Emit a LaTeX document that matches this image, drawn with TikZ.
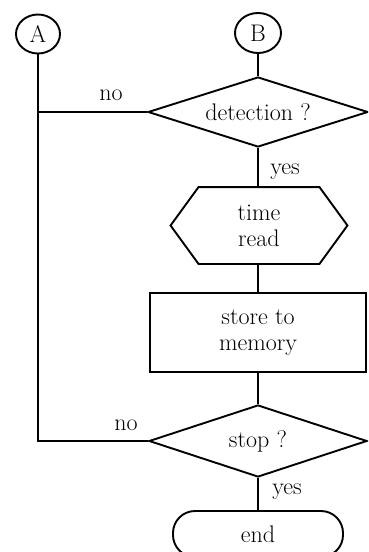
\documentclass[tikz,border=0pt]{standalone}
\usepackage{fontspec}
\usetikzlibrary{shapes.geometric}
\begin{document}
\begin{tikzpicture}[x=1pt,y=-1pt,line width=1.9pt,
  every node/.style={font=\fontsize{24}{26}\selectfont},
  conn/.style={draw,ellipse,minimum width=44,minimum height=39,inner sep=0},
  decide/.style={draw,diamond,inner sep=0},
  lbl/.style={inner sep=0}]
\useasboundingbox (0,0) rectangle (368,552);
\clip (0,0) rectangle (368,552);
\node[conn] (A) at (38,34) {A};
\node[conn,minimum width=46,minimum height=40] (B) at (258,33) {B};
\node[decide,minimum width=220,minimum height=70,shape aspect=3.14] (D1) at (258,112) {detection ?};
\node[inner sep=0,minimum width=175,minimum height=75,align=center] (H) at (259,225.5) {time\\read};
\draw ([xshift=28pt]H.north west) -- ([xshift=-28pt]H.north east) -- (H.east)
  -- ([xshift=-28pt]H.south east) -- ([xshift=28pt]H.south west) -- (H.west) -- cycle;
\node[draw,minimum width=216,minimum height=79,align=center,inner sep=0] (R) at (258,332.5) {store to\\memory};
\node[decide,minimum width=218,minimum height=72,shape aspect=3.03] (D2) at (258,441) {stop ?};
\node[draw,rounded corners=22pt,minimum width=170,minimum height=46,inner sep=0] (E) at (258,534) {end};
\coordinate (J1) at (A |- D1.west);
\coordinate (J2) at (A |- D2.west);
\draw (A.south) -- (J2) -- (D2.west);
\draw (D1.west) -- (J1);
\draw (B.south) -- (D1.north);
\draw (D1.south) -- (D1.south |- H.north);
\draw (R.north |- H.south) -- (R.north);
\draw (R.south) -- (D2.north);
\draw (D2.south) -- (E.north);
\node[lbl] (n1) at (111,95) {no};
\node[lbl] (n2) at (126,425) {no};
\node[lbl] (y1) at (285,172) {yes};
\node[lbl] (y2) at (287,492) {yes};
\end{tikzpicture}
\end{document}
